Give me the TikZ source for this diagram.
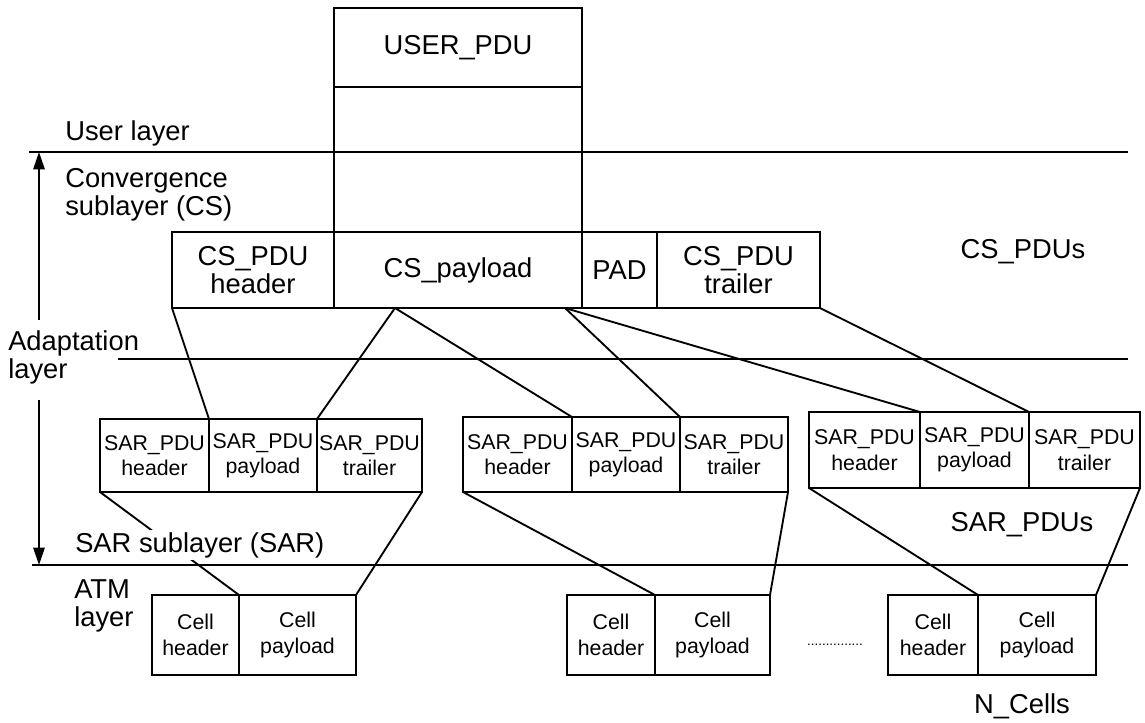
\documentclass[tikz,border=0pt]{standalone}
\usepackage{fontspec}
\setmainfont{Liberation Sans}
\usetikzlibrary{arrows.meta,calc}
\newcommand{\biglab}{\fontsize{20.5}{21}\selectfont}
\newcommand{\sarlab}{\fontsize{16}{19}\selectfont}
\begin{document}
\begin{tikzpicture}[x=0.75pt,y=-0.75pt,
  pbox/.style 2 args={minimum width=#1*0.75pt, minimum height=#2*0.75pt},
  blk/.style={draw, line width=2pt, inner sep=0pt, outer sep=0pt, align=center, font=\biglab},
  sar/.style={draw, line width=2pt, inner sep=0pt, outer sep=0pt, align=center, font=\sarlab},
  lbl/.style={align=left, anchor=west, inner sep=0pt, font=\biglab},
  link/.style={line width=1.4pt},
  layer/.style={line width=1.4pt},
  span/.style={line width=1.4pt, -{Triangle[length=13pt,width=8.5pt]}}]
\useasboundingbox (0,0) rectangle (1145,722);
% user PDU
\node[blk, pbox={248}{79}] (user) at (458,47.5) {USER\_PDU};
\node[blk, pbox={248}{145}] (userb) at (458,159.5) {};
% layer lines
\coordinate (l1a) at (29,152); \coordinate (l1b) at (1128,152);
\coordinate (l2a) at (118,359); \coordinate (l2b) at (1128,359);
\coordinate (l3a) at (32,565); \coordinate (l3b) at (1128,565);
\draw[layer] (l1a) -- (l1b);
\draw[layer] (l2a) -- (l2b);
\draw[layer] (l3a) -- (l3b);
% adaptation span arrow
\coordinate (ar1) at (39,320); \coordinate (ar1t) at (39,152);
\coordinate (ar2) at (39,400); \coordinate (ar2t) at (39,565);
\draw[span] (ar1) -- (ar1t);
\draw[span] (ar2) -- (ar2t);
% CS row
\node[blk, pbox={162}{76}] (cshdr) at (253,270) {CS\_PDU\\header};
\node[blk, pbox={248}{76}] (cspay) at (458,270) {CS\_payload};
\node[blk, pbox={75}{76}] (pad) at (619.5,270) {PAD};
\node[blk, pbox={163}{76}] (cstrl) at (738.5,270) {CS\_PDU\\trailer};
% SAR rows
\node[sar, pbox={109}{73}] (s1h) at (154.5,455.5) {SAR\_PDU\\header};
\node[sar, pbox={108}{73}] (s1p) at (263,455.5) {SAR\_PDU\\payload};
\node[sar, pbox={105}{73}] (s1t) at (369.5,455.5) {SAR\_PDU\\trailer};
\node[sar, pbox={109}{75}] (s2h) at (517.5,454.5) {SAR\_PDU\\header};
\node[sar, pbox={108}{75}] (s2p) at (626,454.5) {SAR\_PDU\\payload};
\node[sar, pbox={108}{75}] (s2t) at (734,454.5) {SAR\_PDU\\trailer};
\node[sar, pbox={111}{76}] (s3h) at (864.5,450) {SAR\_PDU\\header};
\node[sar, pbox={109}{76}] (s3p) at (974.5,450) {SAR\_PDU\\payload};
\node[sar, pbox={111}{76}] (s3t) at (1084.5,450) {SAR\_PDU\\trailer};
% cells
\node[sar, pbox={87}{80}] (c1h) at (195.5,635) {Cell\\header};
\node[sar, pbox={117}{80}] (c1p) at (297.5,635) {Cell\\payload};
\node[sar, pbox={88}{80}] (c2h) at (611,635) {Cell\\header};
\node[sar, pbox={115}{80}] (c2p) at (712.5,635) {Cell\\payload};
\node[sar, pbox={90}{80}] (c3h) at (933,635) {Cell\\header};
\node[sar, pbox={118}{80}] (c3p) at (1037,635) {Cell\\payload};
% connectors
\coordinate (cpa) at ($(cspay.south west)+(61,0)$);
\coordinate (cpb) at ($(cspay.south west)+(231,0)$);
\draw[link] (cshdr.south west) -- (s1h.north east);
\draw[link] (cpa) -- (s1p.north east);
\draw[link] (cpa) -- (s2h.north east);
\draw[link] (cpb) -- (s2p.north east);
\draw[link] (cpb) -- (s3h.north east);
\draw[link] (cstrl.south east) -- (s3p.north east);
\draw[link] (s1h.south west) -- (c1h.north east);
\draw[link] (s1t.south east) -- (c1p.north east);
\draw[link] (s2h.south west) -- (c2h.north east);
\draw[link] (s2t.south east) -- (c2p.north east);
\draw[link] (s3h.south west) -- (c3h.north east);
\draw[link] (s3t.south east) -- (c3p.north east);
% labels
\node[lbl] (tuser) at (65,133) {User layer};
\node[lbl] (tconv) at (65,195) {Convergence\\sublayer (CS)};
\node[font=\biglab, inner sep=0pt] (tcspdus) at (1023,252) {CS\_PDUs};
\node[lbl] (tadapt) at (8,357) {Adaptation\\layer};
\node[font=\biglab, inner sep=0pt] (tsarpdus) at (1022,525) {SAR\_PDUs};
\node[lbl, fill=white, inner xsep=3pt, inner ysep=1.5pt] (tsar) at (71,545) {SAR sublayer (SAR)};
\node[lbl] (tatm) at (74,606) {ATM\\layer};
\node[font=\fontsize{10}{10}\selectfont, inner sep=0pt] (tdots) at (835,645) {...............};
\node[font=\biglab, inner sep=0pt] (tncells) at (1022,706) {N\_Cells};
\end{tikzpicture}
\end{document}
